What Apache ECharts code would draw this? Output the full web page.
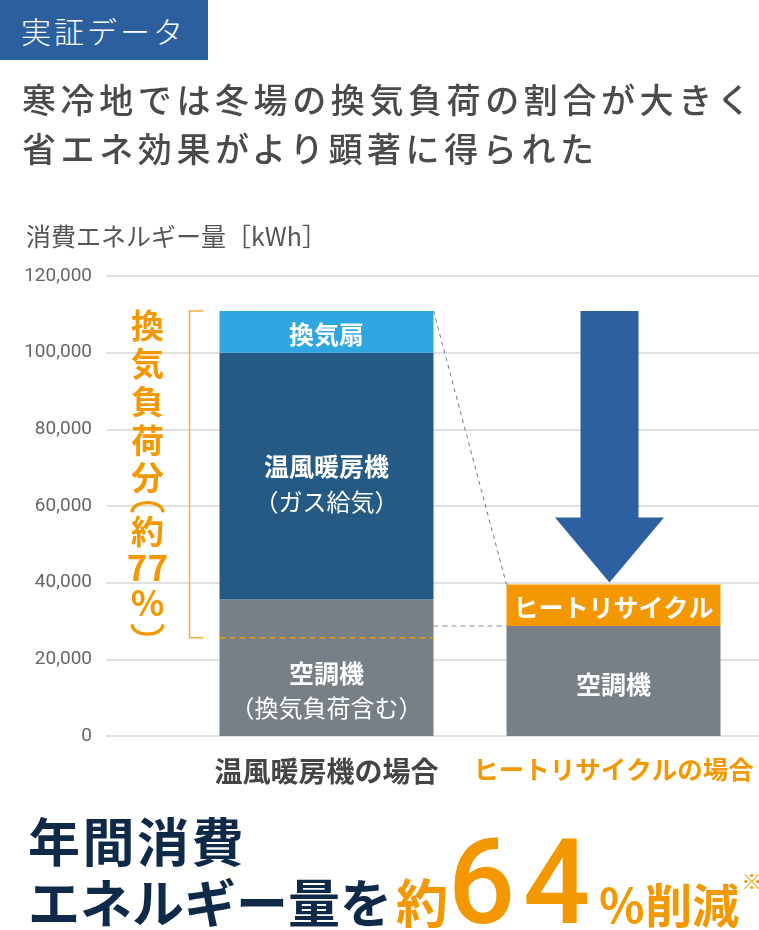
<!DOCTYPE html>
<html lang="ja">
<head>
<meta charset="utf-8">
<title>実証データ</title>
<script src="https://cdn.jsdelivr.net/npm/echarts@6/dist/echarts.min.js"></script>
<style>
body { margin: 0; background: #fff; }
#wrap { position: relative; width: 759px; height: 930px; overflow: hidden; font-family: "Noto Sans CJK JP", sans-serif; }
#main { position: absolute; left: 0; top: 0; width: 759px; height: 930px; }
.badge { position: absolute; left: 0; top: 0; width: 208px; height: 60px; background: #2c5f9e; color: #fff;
  font-size: 30px; line-height: 60px; padding-left: 21px; box-sizing: border-box; letter-spacing: 3px; font-weight: 300; }
.lead { position: absolute; left: 22px; font-size: 34px; line-height: 48px; font-weight: 500; color: #4a4a4a;
  letter-spacing: 4.6px; white-space: nowrap; }
.big { position: absolute; left: 28px; white-space: nowrap; font-weight: bold; color: #0e2a48; }
.l1 { top: 810px; font-size: 52px; line-height: 60px; letter-spacing: 2.5px; }
.l2 { top: 824px; display: flex; align-items: baseline; }
.l2 span { line-height: 1; }
.or { color: #f39800; }
.num { font-family: Roboto, sans-serif; font-weight: 500; font-size: 118px; letter-spacing: 8px; }
.note { font-size: 21px; font-weight: normal; position: relative; top: -34px; margin-left: 2px; }
</style>
</head>
<body>
<div id="wrap">
  <div id="main"></div>
  <div class="badge">実証データ</div>
  <div class="lead" style="top:75px">寒冷地では冬場の換気負荷の割合が大きく</div>
  <div class="lead" style="top:124px">省エネ効果がより顕著に得られた</div>
  <div class="big l1">年間消費</div>
  <div class="big l2">
    <span style="font-size:52px">エネルギー量を</span>
    <span class="or" style="font-size:52px;margin-left:4px">約</span>
    <span class="or num">64</span>
    <span class="or" style="font-size:47px">％削減</span>
    <span class="or note">※</span>
  </div>
</div>
<script>
// 値は図から読み取り [kWh]
const categories = ['温風暖房機の場合', 'ヒートリサイクルの場合'];
const acValues = [35700, 28700];      // 空調機
const heaterValues = [64300, '-'];    // 温風暖房機（ガス給気）
const fanValues = [10900, '-'];       // 換気扇
const recycleValues = ['-', 10800];   // ヒートリサイクル
const acNoVentValue = 25600;          // 空調機のうち換気負荷を除く分
const yMin = 0, yMax = 120000, yStep = 20000;

const ORANGE = '#f39800';
const font = '"Noto Sans CJK JP", sans-serif';
const barW = 214;

let chart = echarts.init(document.getElementById('main'));

function segLabel(text, offsetY) {
  return {
    show: true, position: 'inside', offset: [0, offsetY],
    formatter: text,
    rich: {
      b: { fontSize: 25, fontWeight: 'bold', color: '#fff', lineHeight: 35, fontFamily: font },
      n: { fontSize: 24, color: '#fff', lineHeight: 35, fontFamily: font }
    }
  };
}

let option = {
  animation: false,
  title: {
    text: '消費エネルギー量［kWh］', left: 21, top: 219,
    textStyle: { fontSize: 25, fontWeight: 'normal', color: '#555', fontFamily: font }
  },
  grid: [
    { left: 106, right: 0, top: 276, height: 460 },
    { left: 183, width: 574, top: 276, height: 460 }
  ],
  xAxis: [
    { gridIndex: 0, type: 'value', min: 0, max: 1, show: false },
    {
      gridIndex: 1, type: 'category',
      data: [
        { value: categories[0], textStyle: { color: '#444', fontSize: 28 } },
        { value: categories[1], textStyle: { color: ORANGE, fontSize: 25.5 } }
      ],
      axisLine: { show: false }, axisTick: { show: false },
      axisLabel: { interval: 0, margin: 21, fontWeight: 'bold', fontFamily: font }
    }
  ],
  yAxis: [
    {
      gridIndex: 0, type: 'value', min: yMin, max: yMax, interval: yStep,
      axisLine: { show: false }, axisTick: { show: false },
      axisLabel: { margin: 14, fontSize: 19, color: '#666', fontFamily: 'Roboto, sans-serif',
        formatter: v => v.toLocaleString('en-US') },
      splitLine: { lineStyle: { color: '#e1e1e1', width: 2 } }
    },
    { gridIndex: 1, type: 'value', min: yMin, max: yMax, interval: yStep, show: false }
  ],
  series: [
    {
      name: '空調機', type: 'bar', stack: 'total', xAxisIndex: 1, yAxisIndex: 1, barWidth: barW,
      itemStyle: { color: '#788087' },
      data: [
        { value: acValues[0], label: segLabel('{b|空調機}\n{n|（換気負荷含む）}', 23) },
        { value: acValues[1], label: segLabel('{b|空調機}', 4) }
      ]
    },
    {
      name: '温風暖房機', type: 'bar', stack: 'total', xAxisIndex: 1, yAxisIndex: 1, barWidth: barW,
      itemStyle: { color: '#245a83' },
      label: segLabel('{b|温風暖房機}\n{n|（ガス給気）}', 8),
      data: heaterValues
    },
    {
      name: '換気扇', type: 'bar', stack: 'total', xAxisIndex: 1, yAxisIndex: 1, barWidth: barW,
      itemStyle: { color: '#2ea6df' },
      label: segLabel('{b|換気扇}', 3),
      data: fanValues
    },
    {
      name: 'ヒートリサイクル', type: 'bar', stack: 'total', xAxisIndex: 1, yAxisIndex: 1, barWidth: barW,
      itemStyle: { color: ORANGE },
      label: segLabel('{b|ヒートリサイクル}', 2),
      data: recycleValues
    }
  ]
};
chart.setOption(option);

// 注釈（ブラケット・破線・矢印）はデータ値から座標変換して描く
const sum = i => [acValues, heaterValues, fanValues, recycleValues]
  .reduce((s, arr) => s + (arr[i] === '-' ? 0 : arr[i]), 0);
const total1 = sum(0), total2 = sum(1);
const p = (ci, v) => chart.convertToPixel({ gridIndex: 1 }, [ci, v]);

const top1 = p(0, total1), base1 = p(0, acNoVentValue), ac2 = p(1, acValues[1]), top2 = p(1, total2);
const half = barW / 2;
const left1 = top1[0] - half, right1 = top1[0] + half, left2 = top2[0] - half;
const bx = left1 - 30;
const midY = (top1[1] + base1[1]) / 2;
const tx = left1 - 72;

// 矢印
const ax = top2[0] - 4, tipY = top2[1] - 2, headY = tipY - 65;
const arrow = [[ax - 29, top1[1]], [ax + 29, top1[1]], [ax + 29, headY], [ax + 54.5, headY],
  [ax, tipY], [ax - 54.5, headY], [ax - 29, headY]];

// 縦書き「換気負荷分（約77%）」
const vChars = [
  ['換', -149, 33], ['気', -111, 33], ['負', -73, 33], ['荷', -34, 33], ['分', 3, 33],
  ['約', 57, 33], ['77', 93, 35], ['%', 128, 35]
];
const vText = vChars.map(([t, dy, fs]) => ({
  type: 'text', z: 10, x: tx, y: midY + dy,
  style: { text: t, align: 'center', verticalAlign: 'middle', fill: ORANGE,
    font: 'bold ' + fs + 'px "Noto Sans CJK JP", sans-serif' }
}));
// 縦書きの括弧（︵ ︶）
function paren(endY, bulge) {
  return {
    type: 'bezierCurve', z: 10,
    shape: { x1: tx - 15.5, y1: endY, cpx1: tx - 15, cpy1: endY + bulge, cpx2: tx + 15, cpy2: endY + bulge, x2: tx + 15.5, y2: endY },
    style: { stroke: ORANGE, lineWidth: 3.4, fill: null }
  };
}

chart.setOption({
  graphic: [
    { type: 'polyline', z: 10, shape: { points: [[bx + 14, top1[1]], [bx, top1[1]], [bx, base1[1]], [bx + 14, base1[1]]] },
      style: { stroke: '#f6ad3c', lineWidth: 1.5, fill: null } },
    { type: 'line', z: 10, shape: { x1: left1, y1: base1[1], x2: right1, y2: base1[1] },
      style: { stroke: ORANGE, lineWidth: 1.5, lineDash: [6, 4] } },
    { type: 'line', z: 10, shape: { x1: right1, y1: ac2[1], x2: left2, y2: ac2[1] },
      style: { stroke: '#8a8a8a', lineWidth: 1.2, lineDash: [5, 4] } },
    { type: 'line', z: 10, shape: { x1: right1, y1: top1[1], x2: left2, y2: top2[1] },
      style: { stroke: '#777', lineWidth: 1, lineDash: [4, 4] } },
    { type: 'polygon', z: 10, shape: { points: arrow }, style: { fill: '#2c60a0' } },
    paren(midY + 38, -13),
    paren(midY + 150, 13)
  ].concat(vText)
});
</script>
</body>
</html>
